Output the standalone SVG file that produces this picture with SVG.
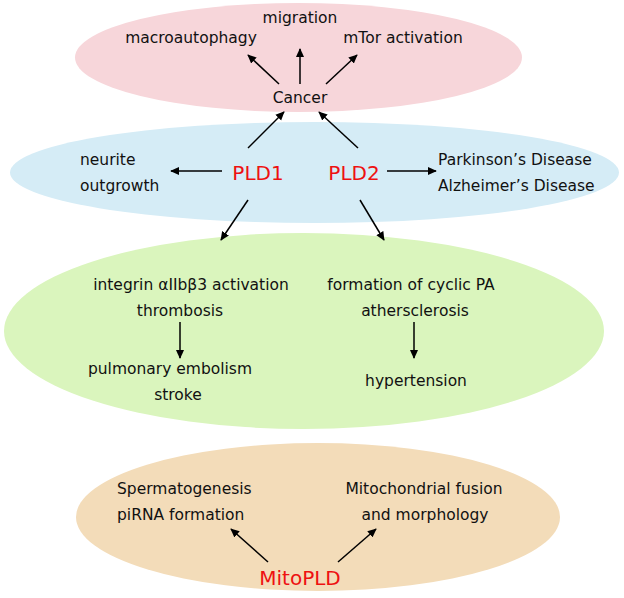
<svg xmlns="http://www.w3.org/2000/svg" width="624" height="598" viewBox="0 0 624 598">
<style>
text{font-family:"DejaVu Sans","Liberation Sans",sans-serif;font-size:15.5px;fill:#111}
.red{fill:#ee1111;font-size:20px}
.m{text-anchor:middle}
.c{stroke:#000;stroke-width:1.5;fill:none;marker-end:url(#ah)}
</style>
<defs>
<marker id="ah" viewBox="0 0 10 10" refX="9" refY="5" markerWidth="9" markerHeight="9" orient="auto" markerUnits="userSpaceOnUse">
<path d="M0,0.5 L10,5 L0,9.5 z" fill="#000"/>
</marker>
</defs>
<rect width="624" height="598" fill="#fff"/>
<g id="regions">
<ellipse cx="298.5" cy="57.5" rx="223.5" ry="54.5" fill="#f7d6da"/>
<ellipse cx="314.5" cy="172.5" rx="304.5" ry="50.5" fill="#d5ecf6"/>
<ellipse cx="304" cy="331" rx="300" ry="98" fill="#daf5bd"/>
<ellipse cx="318" cy="517" rx="242" ry="74" fill="#f3dcb9"/>
</g>
<g id="connectors">
<path class="c" d="M279,84 L248,55"/>
<path class="c" d="M300,84 L300,49"/>
<path class="c" d="M326,84 L357,55"/>
<path class="c" d="M248,148 L284,112"/>
<path class="c" d="M358,148 L319,112"/>
<path class="c" d="M222,171 L171,171"/>
<path class="c" d="M387,171 L436,171"/>
<path class="c" d="M248,200 L221,240"/>
<path class="c" d="M360,200 L384,240"/>
<path class="c" d="M180,322 L180,358"/>
<path class="c" d="M414,322 L414,358"/>
<path class="c" d="M268,562 L231,529"/>
<path class="c" d="M338,562 L376,529"/>
</g>
<g id="migration"><text class="m" x="300" y="23">migration</text></g>
<g id="macroautophagy"><text class="m" x="191" y="43">macroautophagy</text></g>
<g id="mtor"><text class="m" x="403" y="43">mTor activation</text></g>
<g id="cancer"><text class="m" x="300" y="103">Cancer</text></g>
<g id="neurite"><text x="80" y="165">neurite</text><text x="80" y="191">outgrowth</text></g>
<g id="pld1"><text class="red m" x="258" y="180">PLD1</text></g>
<g id="pld2"><text class="red m" x="354" y="180">PLD2</text></g>
<g id="parkinson"><text x="438" y="165">Parkinson’s Disease</text><text x="438" y="191">Alzheimer’s Disease</text></g>
<g id="integrin"><text class="m" x="191" y="290">integrin αIIbβ3 activation</text><text class="m" x="180" y="316">thrombosis</text></g>
<g id="cyclicpa"><text class="m" x="411" y="290">formation of cyclic PA</text><text class="m" x="415" y="316">athersclerosis</text></g>
<g id="pulmonary"><text class="m" x="170" y="374">pulmonary embolism</text><text class="m" x="178" y="400">stroke</text></g>
<g id="hypertension"><text class="m" x="416" y="386">hypertension</text></g>
<g id="spermatogenesis"><text x="117" y="494">Spermatogenesis</text><text x="117" y="520">piRNA formation</text></g>
<g id="mitochondrial"><text class="m" x="424" y="494">Mitochondrial fusion</text><text class="m" x="425" y="520">and morphology</text></g>
<g id="mitopld"><text class="red m" x="300" y="585">MitoPLD</text></g>
</svg>
